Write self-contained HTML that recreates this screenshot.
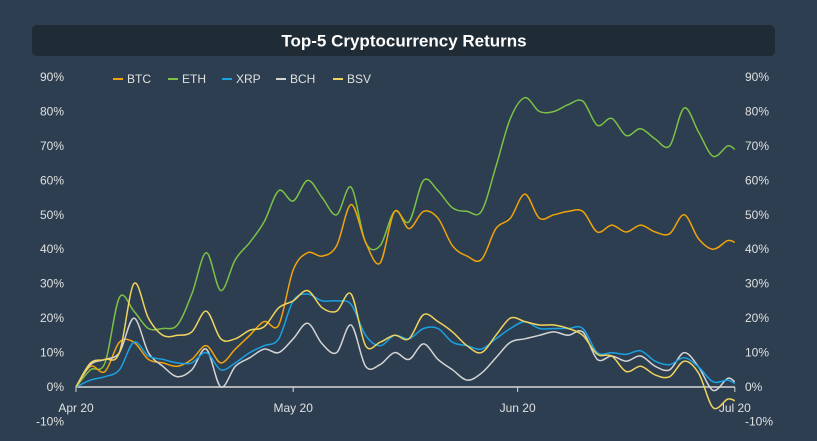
<!DOCTYPE html>
<html><head><meta charset="utf-8">
<style>
body{margin:0;background:#2c3e50;}
svg{display:block;font-family:"Liberation Sans",sans-serif;}
</style></head>
<body>
<svg id="chart" width="817" height="441" viewBox="0 0 817 441">
<rect x="0" y="0" width="817" height="441" fill="#2c3e50"/>
<rect x="32" y="25" width="743" height="31" rx="5" fill="#1f2b35"/>
<text x="404" y="46.5" text-anchor="middle" fill="#fff" font-size="17" font-weight="bold">Top-5 Cryptocurrency Returns</text>
<g id="axes"></g>
<g id="series"></g>
<g id="legend"></g>
</svg>
<script>
const days = [0,2,4,6,8,10,12,14,16,18,20,22,24,26,28,30,32,34,36,38,40,42,44,46,48,50,52,54,56,58,60,62,64,66,68,70,72,74,76,78,80,82,84,86,88,90,91];
const btc = [0,6,4.5,13,13,8,7,6,8,12,7,11,15,19,18,34,39,38,41,53,42,36,51,46,51,49,41,38,37,46,49,56,49,50,51,51,45,47,45,47,45,44.5,50,43,40,42.5,42];
const eth = [0,5,7,26,22,17,17,18,27,39,28,37,42,48,57,54,60,55,50,58,42,41,51,48,60,57,52,51,51,64,78,84,80,80,82,83,76,78,73,75,72,70,81,74,67,70,69];
const xrp = [0,2,3,5,13,9,8,7,7,10,5,7,10,12,14,25,27,25,25,24,15,12,15,14,17,17,13,12,11,14,17,19,17,17,17,17,10,10,9.5,10.5,7.5,6.5,8.5,5.8,1.5,2,1];
const bch = [0,6.5,8,10,20,10,6,3,5,11,0,6,8.5,11,10,14,18.5,12.5,10,18,6,6.5,10,8,12.5,8,5,2,4,8.5,13,14,15,16,15,16,8,9,7.5,9,6,5,10,5.8,-1,2.5,1.5];
const bsv = [0,7,8,10,30,20,15,15,16,22,14,14,16.5,17.5,23,25,28,23,22,27,12,13,15,14,21,19,16,12,10,15,20,19,18,18,17,15,9.5,9,4.5,6,3.5,3,7.5,4,-6,-3.5,-4];
const seriesNames = ["BTC","ETH","XRP","BCH","BSV"];
const yTicks = [-10,0,10,20,30,40,50,60,70,80,90];
const xTickLabels = ["Apr 20","May 20","Jun 20","Jul 20"];
const xTickDays = [0,30,61,91];

const colors = ["#f0a30a","#7cc146","#1ba1e2","#d4d4d4","#f2d45c"];
const NS="http://www.w3.org/2000/svg";
const X0=76, PXD=7.24, Y0=387, PXP=3.444;
function xs(d){return X0+d*PXD;}
function ys(v){return Y0-v*PXP;}
function mk(tag,attrs,parent){const e=document.createElementNS(NS,tag);for(const k in attrs)e.setAttribute(k,attrs[k]);parent.appendChild(e);return e;}
const axes=document.getElementById('axes');
yTicks.forEach(t=>{
  const l=mk('text',{x:64,y:ys(t)+4,'text-anchor':'end',fill:'#e0e0e0','font-size':12},axes);
  l.textContent=t+'%';
  
  
  const r=mk('text',{x:745,y:ys(t)+4,'text-anchor':'start',fill:'#e0e0e0','font-size':12},axes);
  r.textContent=t+'%';
  
  
});
const zl=mk('line',{x1:xs(0),x2:xs(91),y1:ys(0),y2:ys(0),stroke:'#d8d8d8','stroke-width':1.5},axes);


xTickDays.forEach((d,i)=>{
  const tk=mk('line',{x1:xs(d),x2:xs(d),y1:ys(0),y2:ys(0)+5,stroke:'#d8d8d8','stroke-width':1},axes);
  
  
  const t=mk('text',{x:xs(d),y:412,'text-anchor':'middle',fill:'#e0e0e0','font-size':12},axes);
  t.textContent=xTickLabels[i];
  
  
});
function smoothPath(vals){
  const p=vals.map((v,i)=>[xs(days[i]),ys(v)]);
  let d='M'+p[0][0].toFixed(1)+','+p[0][1].toFixed(1);
  for(let i=0;i<p.length-1;i++){
    const p0=p[Math.max(0,i-1)],p1=p[i],p2=p[i+1],p3=p[Math.min(p.length-1,i+2)];
    const c1=[p1[0]+(p2[0]-p0[0])/6,p1[1]+(p2[1]-p0[1])/6];
    const c2=[p2[0]-(p3[0]-p1[0])/6,p2[1]-(p3[1]-p1[1])/6];
    d+='C'+c1[0].toFixed(1)+','+c1[1].toFixed(1)+' '+c2[0].toFixed(1)+','+c2[1].toFixed(1)+' '+p2[0].toFixed(1)+','+p2[1].toFixed(1);
  }
  return d;
}
const sg=document.getElementById('series');
const data=[btc,eth,xrp,bch,bsv];
[1,0,3,2,4].forEach(i=>{
  const path=mk('path',{d:smoothPath(data[i]),fill:'none',stroke:colors[i],'stroke-width':1.5},sg);
  
  
});
const lg=document.getElementById('legend');
const lx=[113,168,222,276,333];
seriesNames.forEach((n,i)=>{
  const g=mk('g',{},lg);
  
  
  mk('line',{x1:lx[i],x2:lx[i]+10,y1:79,y2:79,stroke:colors[i],'stroke-width':2},g);
  const t=mk('text',{x:lx[i]+14,y:83,fill:'#e0e0e0','font-size':12},g);
  t.textContent=n;
});
</script>
</body></html>
